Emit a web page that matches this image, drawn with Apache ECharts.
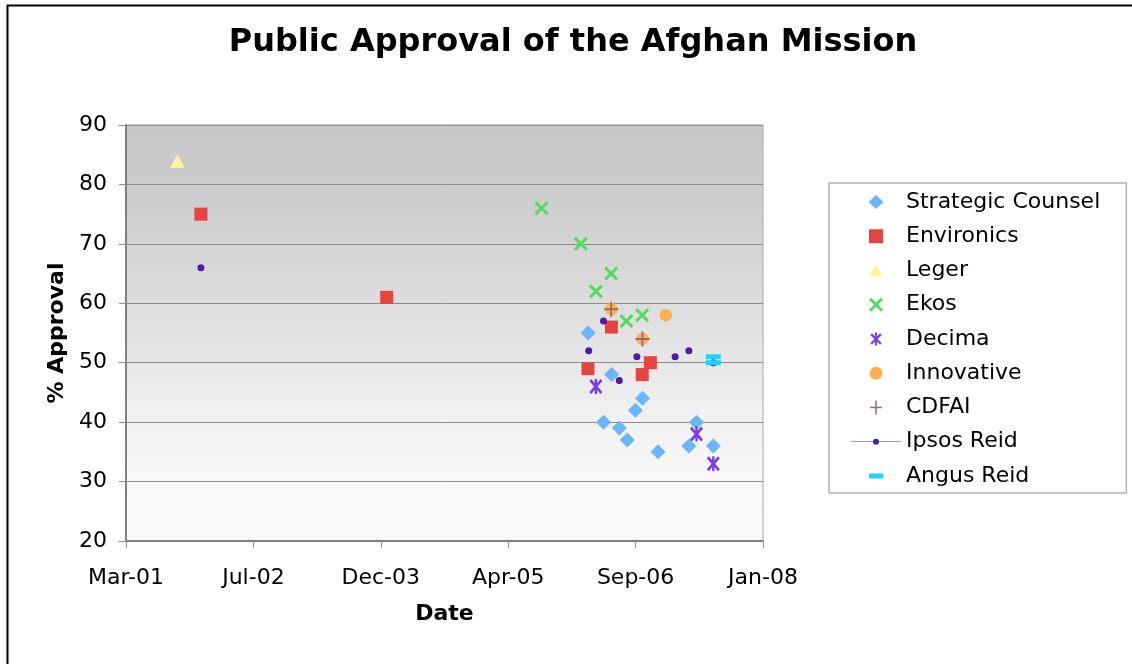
<!DOCTYPE html>
<html>
<head>
<meta charset="utf-8">
<title>Public Approval of the Afghan Mission</title>
<script src="https://cdn.jsdelivr.net/npm/echarts@6/dist/echarts.min.js"></script>
<style>
  html, body { margin: 0; padding: 0; background: #ffffff; }
  #chart { width: 1132px; height: 664px; }
</style>
</head>
<body>
<div id="chart"></div>
<script>
// Poll results: survey date and % approving of the mission, one pair of arrays per pollster
const seriesNames = ['Strategic Counsel', 'Environics', 'Leger', 'Ekos', 'Decima',
                     'Innovative', 'CDFAI', 'Ipsos Reid', 'Angus Reid'];

const strategicCounselDates  = ['2006-03-03', '2006-05-02', '2006-06-03', '2006-07-03', '2006-08-03',
                                '2006-09-04', '2006-10-02', '2006-12-02', '2007-04-02', '2007-05-02', '2007-07-07'];
const strategicCounselValues = [55, 40, 48, 39, 37, 42, 44, 35, 36, 40, 36];

const environicsDates  = ['2002-01-03', '2004-01-02', '2006-03-02', '2006-06-02', '2006-10-01', '2006-11-02'];
const environicsValues = [75, 61, 49, 56, 48, 50];

const legerDates  = ['2001-10-03'];
const legerValues = [84];

const ekosDates  = ['2005-09-01', '2006-02-02', '2006-04-02', '2006-06-01', '2006-07-31', '2006-10-01'];
const ekosValues = [76, 70, 62, 65, 57, 58];

const decimaDates  = ['2006-04-02', '2007-05-02', '2007-07-07'];
const decimaValues = [46, 38, 33];

const innovativeDates  = ['2006-06-02', '2006-10-02', '2007-01-02'];
const innovativeValues = [59, 54, 58];

const cdfaiDates  = ['2006-06-01', '2006-10-02'];
const cdfaiValues = [59, 54];

const ipsosReidDates  = ['2002-01-03', '2006-03-05', '2006-05-02', '2006-07-03', '2006-09-10',
                         '2007-02-07', '2007-04-02', '2007-07-07'];
const ipsosReidValues = [66, 52, 57, 47, 51, 51, 52, 50];

const angusReidDates  = ['2007-07-07', '2007-07-07'];
const angusReidValues = [51, 50];

// Date axis: starts mid-March 2001, one tick every 500 days
const axisStartDate = '2001-03-15';
const tickStepDays = 500;
const dateTickLabels = ['Mar-01', 'Jul-02', 'Dec-03', 'Apr-05', 'Sep-06', 'Jan-08'];
const approvalTicks = [20, 30, 40, 50, 60, 70, 80, 90];

const DAY_MS = 86400000;
const axisStartMs = Date.parse(axisStartDate);
function dayOffset(dateStr) {
  return (Date.parse(dateStr) - axisStartMs) / DAY_MS;
}
function points(dates, values) {
  return dates.map((d, i) => [dayOffset(d), values[i]]);
}

const FONT = '"DejaVu Sans", Verdana, sans-serif';

// Marker shapes
const X_PATH = 'path://M1.5,0 L5,3.5 L8.5,0 L10,1.5 L6.5,5 L10,8.5 L8.5,10 L5,6.5 L1.5,10 L0,8.5 L3.5,5 L0,1.5 Z';
const STAR_PATH = 'path://M1.4,0 L5,3.6 L8.6,0 L10,1.4 L6.4,5 L10,8.6 L8.6,10 L5,6.4 L1.4,10 L0,8.6 L3.6,5 L0,1.4 Z ' +
                  'M4.1,0 L5.9,0 L5.9,10 L4.1,10 Z';
const PLUS_PATH = 'path://M4.35,0 L5.65,0 L5.65,4.35 L10,4.35 L10,5.65 L5.65,5.65 L5.65,10 L4.35,10 L4.35,5.65 L0,5.65 L0,4.35 L4.35,4.35 Z';

// Legend icons, each drawn in its own box so it keeps its proportions
const LEGEND_ICONS = {
  'Strategic Counsel': 'path://M7,0 L14,6.5 L7,13 L0,6.5 Z',
  'Environics': 'path://M0,0 L14,0 L14,14 L0,14 Z',
  'Leger': 'path://M0,0 M7,0.5 L14,13 L0,13 Z M14,14',
  'Ekos': X_PATH,
  'Decima': 'path://M0,0 M1.9,1 L5,4.1 L8.1,1 L9.3,2.2 L6.2,5.3 L9.3,8.4 L8.1,9.6 L5,6.5 L1.9,9.6 L0.7,8.4 L3.8,5.3 L0.7,2.2 Z ' +
            'M4.2,0.4 L5.8,0.4 L5.8,10.2 L4.2,10.2 Z M10,10.6',
  'Innovative': 'path://M0,0 M0.6,7 A6.4,6.4 0 1,1 13.4,7 A6.4,6.4 0 1,1 0.6,7 Z M14,14',
  'CDFAI': 'path://M0,0 M4.4,0 L5.6,0 L5.6,4.9 L9.6,4.9 L9.6,6.1 L5.6,6.1 L5.6,11 L4.4,11 L4.4,6.1 L0.4,6.1 L0.4,4.9 L4.4,4.9 Z M10,11',
  'Ipsos Reid': 'path://M0,0 M0,6.8 L22.5,6.8 L22.5,7.2 L0,7.2 Z M27.5,6.8 L50,6.8 L50,7.2 L27.5,7.2 Z ' +
                'M22,7 A3,3 0 1,1 28,7 A3,3 0 1,1 22,7 Z M50,14',
  'Angus Reid': 'path://M0,0 M0,4.5 L14,4.5 L14,9.5 L0,9.5 Z M14,14'
};

const seriesSpecs = [
  { name: 'Strategic Counsel', data: points(strategicCounselDates, strategicCounselValues), symbol: 'diamond', size: [15, 15], color: '#6bb5fb' },
  { name: 'Environics', data: points(environicsDates, environicsValues), symbol: 'rect', size: [13, 13], color: '#e64441' },
  { name: 'Leger', data: points(legerDates, legerValues), symbol: 'triangle', size: [14, 14], color: '#fff59c' },
  { name: 'Ekos', data: points(ekosDates, ekosValues), symbol: X_PATH, size: [14, 14], color: '#52dc5f' },
  { name: 'Decima', data: points(decimaDates, decimaValues), symbol: STAR_PATH, size: [13, 15], color: '#7a3cf2' },
  { name: 'Innovative', data: points(innovativeDates, innovativeValues), symbol: 'circle', size: 12.5, color: '#fcb04f' },
  { name: 'CDFAI', data: points(cdfaiDates, cdfaiValues), symbol: PLUS_PATH, size: [14, 15], color: '#9a6b6b' },
  { name: 'Ipsos Reid', data: points(ipsosReidDates, ipsosReidValues), symbol: 'circle', size: 7, color: '#4f1aa6' },
  { name: 'Angus Reid', data: points(angusReidDates, angusReidValues), symbol: 'rect', size: [15, 5], color: '#1ed2fb' }
];

const chart = echarts.init(document.getElementById('chart'), null, { renderer: 'canvas' });

chart.setOption({
  animation: false,
  backgroundColor: '#ffffff',
  textStyle: { fontFamily: FONT },
  title: {
    text: 'Public Approval of the Afghan Mission',
    left: 568,
    top: 22,
    textAlign: 'center',
    textStyle: { fontFamily: FONT, fontSize: 32, fontWeight: 'bold', color: '#000000', lineHeight: 32 }
  },
  graphic: [{
    type: 'rect',
    left: 5, top: 3,
    shape: { x: 0, y: 0, width: 1200, height: 720 },
    style: { fill: 'none', stroke: '#000000', lineWidth: 2 },
    silent: true,
    z: 100
  }],
  legend: {
    orient: 'vertical',
    left: 829,
    top: 183,
    padding: [8, 26, 6, 22],
    itemWidth: 50,
    itemHeight: 14,
    itemGap: 12.25,
    symbolKeepAspect: true,
    borderColor: '#8c8c8c',
    borderWidth: 1,
    backgroundColor: '#ffffff',
    textStyle: { fontFamily: FONT, fontSize: 22, color: '#000000', lineHeight: 22 },
    data: seriesNames.map(n => ({ name: n, icon: LEGEND_ICONS[n] }))
  },
  grid: {
    left: 126, right: 369, top: 125, bottom: 123,
    show: true,
    borderColor: '#a8a8a8',
    borderWidth: 1,
    backgroundColor: {
      type: 'linear', x: 0, y: 0, x2: 0, y2: 1,
      colorStops: [
        { offset: 0, color: '#c8c8c8' },
        { offset: 0.15, color: '#cbcbcb' },
        { offset: 0.45, color: '#dedede' },
        { offset: 0.7, color: '#f1f1f1' },
        { offset: 0.85, color: '#f8f8f8' },
        { offset: 1, color: '#fafafa' }
      ]
    }
  },
  xAxis: {
    type: 'value',
    min: 0,
    max: tickStepDays * (dateTickLabels.length - 1),
    interval: tickStepDays,
    name: 'Date',
    nameLocation: 'middle',
    nameGap: 62,
    nameTextStyle: { fontFamily: FONT, fontSize: 22, fontWeight: 'bold', color: '#000000', lineHeight: 22 },
    axisLine: { show: true, onZero: false, lineStyle: { color: '#808080', width: 2 } },
    axisTick: { show: true, inside: false, length: 7, lineStyle: { color: '#909090', width: 1 } },
    axisLabel: {
      margin: 26,
      fontFamily: FONT, fontSize: 22, color: '#000000', lineHeight: 22,
      formatter: v => dateTickLabels[Math.round(v / tickStepDays)] || ''
    },
    splitLine: { show: false }
  },
  yAxis: {
    type: 'value',
    min: approvalTicks[0],
    max: approvalTicks[approvalTicks.length - 1],
    interval: approvalTicks[1] - approvalTicks[0],
    name: '% Approval',
    nameLocation: 'middle',
    nameGap: 58,
    nameTextStyle: { fontFamily: FONT, fontSize: 22, fontWeight: 'bold', color: '#000000', lineHeight: 22 },
    axisLine: { show: true, lineStyle: { color: '#808080', width: 2 } },
    axisTick: { show: true, inside: false, length: 7, lineStyle: { color: '#909090', width: 1 } },
    axisLabel: { margin: 19, fontFamily: FONT, fontSize: 22, color: '#000000', lineHeight: 22, padding: [3, 0, 0, 0] },
    splitLine: { show: true, lineStyle: { color: '#8c8c8c', width: 1 } }
  },
  series: seriesSpecs.map(s => ({
    name: s.name,
    type: 'scatter',
    data: s.data,
    symbol: s.symbol,
    symbolSize: s.size,
    itemStyle: { color: s.color, opacity: 1 },
    emphasis: { disabled: true }
  }))
});
</script>
</body>
</html>
